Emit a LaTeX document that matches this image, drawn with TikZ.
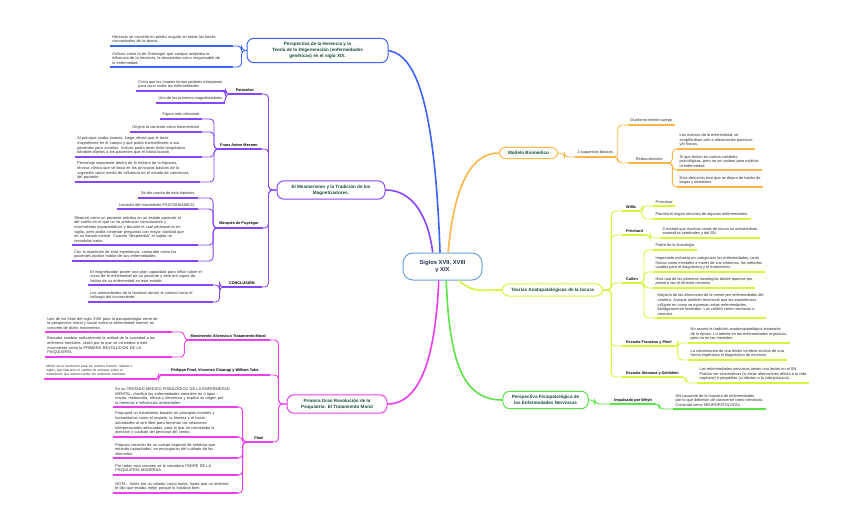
\documentclass[tikz,border=0pt]{standalone}
\usepackage{fontspec}
\setmainfont{Liberation Sans}
\definecolor{cblue}{RGB}{60,100,250}
\definecolor{cvio}{RGB}{135,70,250}
\definecolor{cmag}{RGB}{238,60,238}
\definecolor{corg}{RGB}{255,182,72}
\definecolor{clime}{RGB}{212,245,60}
\definecolor{cgrn}{RGB}{90,228,70}
\definecolor{cctr}{RGB}{110,160,215}
\definecolor{croot}{RGB}{40,55,80}
\definecolor{ctxt}{RGB}{25,75,60}
\definecolor{cleaf}{RGB}{45,45,45}

\begin{document}
\begin{tikzpicture}[x=1pt,y=-1pt,
	root/.style={draw=cctr,line width=1pt,rounded corners=10pt,fill=white,align=center,
		minimum width=79pt,minimum height=27pt,font=\fontsize{5.8}{7.4}\selectfont\bfseries,text=croot},
	branch/.style={draw=#1,line width=1pt,rounded corners=7pt,fill=white,align=center,
		inner xsep=9pt,inner ysep=4pt,font=\fontsize{4.6}{6}\selectfont\bfseries,text=ctxt},
	ul/.style={append after command={\pgfextra{\let\ulnode\tikzlastnode}
		(\ulnode.south west) edge[draw=#1,line width=1.1pt] (\ulnode.south east)}},
	topic/.style={font=\fontsize{3.8}{4.6}\selectfont\bfseries,inner xsep=4pt,inner ysep=2pt,ul=#1},
	leaf/.style={font=\fontsize{3.9}{4.7}\selectfont,text=cleaf,align=left,
		inner xsep=2.5pt,inner ysep=2.2pt,ul=#1},
	conn/.style={line width=0.9pt,rounded corners=4pt},
	trunk/.style={line width=1.6pt},
	]
	\path[fill=white] (0,0) rectangle (848,527);
	\useasboundingbox (0,0) rectangle (848,527);

	% centre and main branches
	\node[root] (root) at (442.5,266.5) {Siglos XVII, XVIII\\y XIX};
	\node[branch=cblue,minimum width=141pt] (her) at (317.5,50.5)
		{Perspectiva de la Herencia y la\\Teoría de la Degeneración (enfermedades\\genéticas) en el siglo XIX.};
	\node[branch=cvio,minimum width=108pt] (mes) at (331,190)
		{El Mesmerismo y la Tradición de los\\Magnetizadores.};
	\node[branch=cmag,minimum width=100pt] (rev) at (337,404)
		{Primera Gran Revolución de la\\Psiquiatría: El Tratamiento Moral};
	\node[branch=corg] (mod) at (528.5,153) {Modelo Biomédico};
	\node[branch=clime] (teo) at (552.5,290) {Teorías Anatopatológicas de la locura};
	\node[branch=cgrn] (fis) at (545.5,400) {Perspectiva Fisiopatológica de\\las Enfermedades Nerviosas};

	\draw[cblue,trunk] (root.100) .. controls +(-5,-140) and +(30,5) .. (her.east);
	\draw[cvio,trunk] (root.125) .. controls +(-5,-40) and +(25,0) .. (mes.east);
	\draw[cmag,trunk] (root.255) .. controls +(-3,70) and +(35,0) .. (rev.east);
	\draw[corg,trunk] (root.68) .. controls +(5,-60) and +(-30,0) .. (mod.west);
	\draw[clime,trunk] (root.-41) .. controls +(15,12) and +(-25,0) .. (teo.west);
	\draw[cgrn,trunk] (root.285) .. controls +(3,80) and +(-40,0) .. (fis.west);

	% herencia
	\node[leaf=cblue,anchor=south east,text width=118pt] (h1) at (233,46)
		{Herencia se convirtió en piedra angular en todas las bases\\conceptuales de la época.};
	\node[leaf=cblue,anchor=south east,text width=118pt] (h2) at (233,67)
		{Críticas como la de Griesinger que aunque aceptaba la\\influencia de la herencia, la descartaba como responsable de\\la enfermedad.};
	\foreach \l in {h1,h2}
		\draw[cblue,conn] (her.west) -- ++(-5,0) |- (\l.south east);

	% mesmerismo
	\node[topic=cvio,anchor=south east,minimum width=34pt] (para) at (262,94) {Paracelso};
	\node[topic=cvio,anchor=south east] (fam) at (262,149) {Franz Anton Mesmer};
	\node[topic=cvio,anchor=south east] (puy) at (263,228) {Marqués de Puységur};
	\node[topic=cvio,anchor=south east,minimum width=40pt] (conc) at (262,287) {CONCLUSIÓN};
	\foreach \t in {para,fam,puy,conc}
		\draw[cvio,conn] (mes.west) -- ++(-8,0) |- (\t.south east);

	\node[leaf=cvio,anchor=south east] (pa1) at (225,91)
		{Creía que los imanes tenían poderes milagrosos\\para curar todas las enfermedades.};
	\node[leaf=cvio,anchor=south east] (pa2) at (225,103) {Uno de los primeros magnetizadores};
	\node[leaf=cvio,anchor=south east] (me1) at (202,119) {Figura más relevante};
	\node[leaf=cvio,anchor=south east] (me2) at (202,132) {Originó la corriente como mesmerismo};
	\node[leaf=cvio,anchor=south east,text width=122pt] (me3) at (202,157)
		{Al principio usaba imanes, luego afirmó que el tenía\\magnetismo en el cuerpo y que podía transmitírselo a sus\\pacientes para curarlos. Incluso podía tener éxito terapéutico\\dándole objetos a los pacientes que el había tocado.};
	\node[leaf=cvio,anchor=south east,text width=120pt] (me4) at (200,182)
		{Personaje importante dentro de la historia de la hipnosis,\\técnica clínica que se basó en los principios básicos de la\\sugestión como medio de influencia en el estado de conciencia\\del paciente.};
	\node[leaf=cvio,anchor=south east] (pu1) at (198,198) {Se dio cuenta de esta hipnosis.};
	\node[leaf=cvio,anchor=south east] (pu2) at (198,209) {Iniciador del movimiento PSICODINÁMICO.};
	\node[leaf=cvio,anchor=south east,text width=121pt] (pu3) at (198,245)
		{Observó como un paciente entraba en un estado parecido al\\del sueño en el que no se producían convulsiones y\\movimientos espasmódicos y durante el cual permanecía en\\vigilia, pero podía contestar preguntas con mayor claridad que\\en su estado normal. Cuando ``despertaba'' el sujeto no\\recordaba nada.};
	\node[leaf=cvio,anchor=south east,text width=121pt] (pu4) at (198,261)
		{Con la repetición de esta experiencia, comprobó como los\\pacientes podían hablar de sus enfermedades.};
	\node[leaf=cvio,anchor=south east,text width=120pt] (co1) at (213,285)
		{El magnetizador posee una gran capacidad para influir sobre el\\curso de la enfermedad de su paciente y este era capaz de\\hablar de su enfermedad en este estado.};
	\node[leaf=cvio,anchor=south east,text width=120pt] (co2) at (213,302)
		{Los antecedentes de la hipnosis abrían el camino hacia el\\hallazgo del inconsciente.};
	\foreach \l in {pa1,pa2}
		\draw[cvio,conn] (para.south west) -- ++(-2,0) |- (\l.south east);
	\foreach \l in {me1,me2,me3,me4}
		\draw[cvio,conn] (fam.south west) -- ++(-2,0) |- (\l.south east);
	\foreach \l in {pu1,pu2,pu3,pu4}
		\draw[cvio,conn] (puy.south west) -- ++(-2,0) |- (\l.south east);
	\foreach \l in {co1,co2}
		\draw[cvio,conn] (conc.south west) -- ++(-2,0) |- (\l.south east);

	% tratamiento moral
	\node[topic=cmag,anchor=south east] (mov) at (270,340) {Movimiento Alienista o Tratamiento Moral};
	\node[topic=cmag,anchor=south east,minimum width=110pt] (phi) at (270,375) {Philippe Pinel, Vincenzo Chiarugi y William Tuke};
	\node[topic=cmag,anchor=south east,minimum width=28pt] (pin) at (273,442) {Pinel};
	\foreach \t in {mov,phi,pin}
		\draw[cmag,conn] (rev.west) -- ++(-8,0) |- (\t.south east);

	\node[leaf=cmag,anchor=south east,text width=122pt] (mo1) at (172,332)
		{Uno de los hitos del siglo XVIII para la psicopatología viene de\\la perspectiva moral y social sobre la enfermedad mental, en\\concreto de dicho movimiento.};
	\node[leaf=cmag,anchor=south east,text width=122pt] (mo2) at (172,357)
		{Buscaba cambiar radicalmente la actitud de la sociedad a los\\enfermos mentales, razón por la que se considera a este\\movimiento como la PRIMERA REVOLUCIÓN DE LA\\PSIQUIATRÍA.};
	\node[leaf=cmag,anchor=south east,text width=108pt,font=\fontsize{3.3}{4.2}\selectfont] (ph1) at (157,379)
		{Mérito de la revolución para los autores francés, italiano e\\inglés, que lideraron el cambio de enfoque sobre el\\tratamiento que debían recibir los enfermos mentales.};
	\node[leaf=cmag,anchor=south east,text width=120pt] (pi1) at (238,407)
		{En su TRATADO MÉDICO FISIOLÓGICO DE LA ENFERMEDAD\\MENTAL, clasificó las enfermedades mentales en 4 tipos :\\manía, melancolía, idiocia y demencia y explicó su origen por\\la herencia e influencias ambientales.};
	\node[leaf=cmag,anchor=south east,text width=120pt] (pi2) at (238,437)
		{Propugnó un tratamiento basado en principios morales y\\humanitarios como el respeto, la firmeza y el hacer\\actividades al aire libre para fomentar las relaciones\\interpersonales adecuadas, para lo que se necesitaba la\\atención y cuidado del personal del centro.};
	\node[leaf=cmag,anchor=south east,text width=120pt] (pi3) at (238,458)
		{Propuso creación de un cuerpo especial de médicos que\\estando capacitados, se encargarían del cuidado de los\\alienados.};
	\node[leaf=cmag,anchor=south east,text width=120pt] (pi4) at (238,475)
		{Por todas esta razones se le considera PADRE DE LA\\PSIQUIATRÍA MODERNA.};
	\node[leaf=cmag,anchor=south east,text width=120pt] (pi5) at (238,493)
		{NOTA:\ \ Antes fue un celador como todos, hasta que un enfermo\\le dijo que estaba mejor porque lo trataban bien.};
	\foreach \l in {mo1,mo2}
		\draw[cmag,conn] (mov.south west) -- ++(-2,0) |- (\l.south east);
	\draw[cmag,conn] (phi.south west) -- ++(-1,0) |- (ph1.south east);
	\foreach \l in {pi1,pi2,pi3,pi4,pi5}
		\draw[cmag,conn] (pin.south west) -- ++(-2,0) |- (\l.south east);

	% modelo biomedico
	\node[leaf=corg,anchor=south west] (sup) at (575,157) {2 supuestos básicos};
	\node[leaf=corg,anchor=south west] (dua) at (628,125) {Dualismo mente-cuerpo};
	\node[leaf=corg,anchor=south west,minimum width=42pt] (red) at (628,163) {Reduccionismo};
	\node[leaf=corg,anchor=south west] (re1) at (677,149)
		{Los motivos de la enfermedad, se\\simplificaban solo a alteraciones químicas\\y/o físicas.};
	\node[leaf=corg,anchor=south west] (re2) at (677,170)
		{Si que tenían en cuenta variables\\psicológicas, pero no se usaban para explicar\\la enfermedad.};
	\node[leaf=corg,anchor=south west] (re3) at (677,187)
		{Esta distinción hizo que se dejara de hablar de\\brujas y demonios.};
	\draw[corg,conn] (mod.east) -- ++(6,0) |- (sup.south west);
	\foreach \t in {dua,red}
		\draw[corg,conn] (sup.south east) -- ++(2,0) |- (\t.south west);
	\foreach \l in {re1,re2,re3}
		\draw[corg,conn] (red.south east) -- ++(2,0) |- (\l.south west);

	% teorias anatopatologicas
	\node[topic=clime,anchor=south west] (wil) at (622,211) {Willis};
	\node[topic=clime,anchor=south west] (prt) at (622,235) {Pritchard};
	\node[topic=clime,anchor=south west] (cul) at (622,283) {Cullen};
	\node[topic=clime,anchor=south west] (fra) at (622,346) {Escuela Francesa y Pinel};
	\node[topic=clime,anchor=south west] (ale) at (622,377) {Escuela Alemana y Schiblein};
	\foreach \t in {wil,prt,cul,fra,ale}
		\draw[clime,conn] (teo.east) -- ++(8,0) |- (\t.south west);

	\node[leaf=clime,anchor=south west] (wi1) at (653,206) {Precursor};
	\node[leaf=clime,anchor=south west] (wi2) at (653,219) {Planteó el origen nervioso de algunas enfermedades.};
	\node[leaf=clime,anchor=south west] (pr1) at (660,238)
		{Constató que muchos casos de locura no presentaban\\anomalías cerebrales y del SN.};
	\node[leaf=clime,anchor=south west] (cu1) at (653,250) {Padre de la Nosología};
	\node[leaf=clime,anchor=south west] (cu2) at (653,272)
		{Importante esfuerzo en categorizar las enfermedades, tanto\\físicas como mentales a través de sus síntomas, los métodos\\usados para el diagnóstico y el tratamiento.};
	\node[leaf=clime,anchor=south west] (cu3) at (653,288)
		{Hizo una de las primeras nosologías donde aparece por\\primera vez el término neurosis.};
	\node[leaf=clime,anchor=south west] (cu4) at (655,318)
		{Mayoría de las afecciones de la mente por enfermedades del\\cerebro. Aunque también reconoció que las experiencias\\influyen en como se expresan estas enfermedades,\\biológicamente fundadas. Las calificó como nerviosas o\\neurosis.};
	\node[leaf=clime,anchor=south west] (fr1) at (688,343)
		{No asume la tradición anatomopatológica imperante\\de la época. Lo admite en las enfermedades orgánicas,\\pero no en las mentales.};
	\node[leaf=clime,anchor=south west] (fr2) at (688,360)
		{La constatación de una lesión cerebral excluía de una\\forma imperativa el diagnóstico de neurosis.};
	\node[leaf=clime,anchor=south west] (al1) at (697,383)
		{Las enfermedades nerviosas tienen una lesión en el SN.\\Podían ser sintomáticas (si estas alteraciones afecta a la vida\\orgánica) o pequeñas (si afectan a la vida psíquica).};
	\foreach \l in {wi1,wi2}
		\draw[clime,conn] (wil.south east) -- ++(2,0) |- (\l.south west);
	\draw[clime,conn] (prt.south east) -- ++(3,0) |- (pr1.south west);
	\foreach \l in {cu1,cu2,cu3,cu4}
		\draw[clime,conn] (cul.south east) -- ++(2,0) |- (\l.south west);
	\foreach \l in {fr1,fr2}
		\draw[clime,conn] (fra.south east) -- ++(2,0) |- (\l.south west);
	\draw[clime,conn] (ale.south east) -- ++(3,0) |- (al1.south west);

	% perspectiva fisiopatologica
	\node[topic=cgrn,anchor=south west] (why) at (610,404) {Impulsado por Whytt};
	\node[leaf=cgrn,anchor=south west] (wh1) at (673,409)
		{SN causante de la mayoría de enfermedades,\\por lo que deberían de conocerse como nerviosas.\\Conocida como NEUROPATOLOGÍA.};
	\draw[cgrn,conn] (fis.east) -- ++(6,0) |- (why.south west);
	\draw[cgrn,conn] (why.south east) -- ++(3,0) |- (wh1.south west);
\end{tikzpicture}
\end{document}
